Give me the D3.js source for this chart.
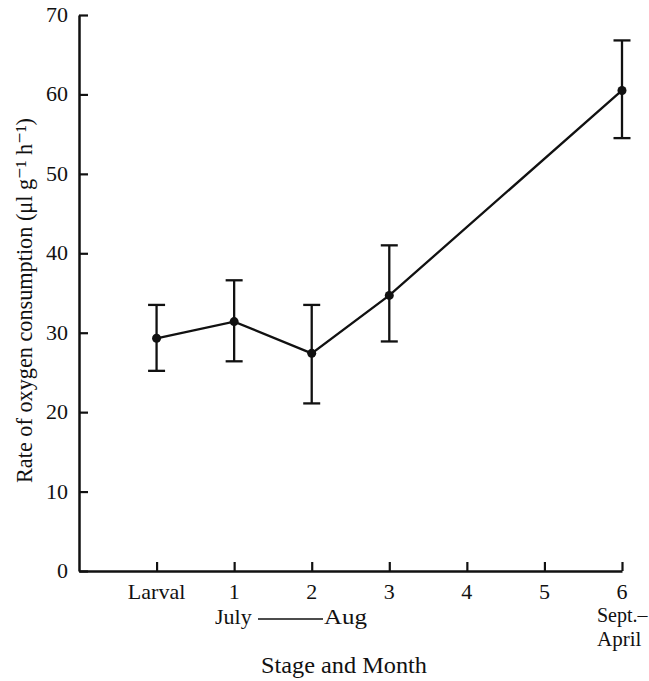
<!DOCTYPE html>
<html>
<head>
<meta charset="utf-8">
<script src="https://cdn.jsdelivr.net/npm/d3@7"></script>
<style>
  html, body { margin: 0; padding: 0; background: #fff; }
  svg text { font-family: "Liberation Serif", "DejaVu Serif", serif; fill: #111; }
</style>
</head>
<body>
<svg id="chart" width="649" height="681"></svg>
<script>
// Stage index: 0 = larval, 1..6 = post-larval stages
const stages = [0, 1, 2, 3, 6];
const meanRate = [29.3, 31.4, 27.4, 34.7, 60.5];
const upperRate = [33.5, 36.6, 33.5, 41.0, 66.8];
const lowerRate = [25.2, 26.4, 21.1, 28.9, 54.5];

const xTickValues = [0, 1, 2, 3, 4, 5, 6];
const xTickLabels = ["Larval", "1", "2", "3", "4", "5", "6"];
const yTickValues = [0, 10, 20, 30, 40, 50, 60, 70];

const svg = d3.select("#chart");
const ink = "#111";

const x = d3.scaleLinear().domain([-1, 6]).range([79, 622]);
const y = d3.scaleLinear().domain([0, 70]).range([571, 15]);

// Y axis: ticks point inward
const yAxis = svg.append("g").attr("transform", `translate(${x(-1)},0)`)
  .call(d3.axisRight(y).tickValues(yTickValues).tickSize(9).tickSizeOuter(0).tickFormat(""));
yAxis.select(".domain").attr("stroke", ink).attr("stroke-width", 2.5);
yAxis.selectAll(".tick line").attr("stroke", ink).attr("stroke-width", 2.2);

svg.append("g").selectAll("text").data(yTickValues).join("text")
  .attr("x", 68).attr("y", d => y(d) + 7)
  .attr("text-anchor", "end").attr("font-size", 22)
  .text(d => d);

// X axis: ticks point up into the plot
const xAxis = svg.append("g").attr("transform", `translate(0,${y(0)})`)
  .call(d3.axisTop(x).tickValues(xTickValues).tickSize(9).tickSizeOuter(0).tickFormat(""));
xAxis.select(".domain").attr("stroke", ink).attr("stroke-width", 2.5);
xAxis.selectAll(".tick line").attr("stroke", ink).attr("stroke-width", 2.2);

svg.append("g").selectAll("text").data(xTickValues).join("text")
  .attr("x", d => x(d)).attr("y", 599)
  .attr("text-anchor", "middle").attr("font-size", 22)
  .text((d, i) => xTickLabels[i]);

// Month annotations
svg.append("text").attr("x", 215).attr("y", 624)
  .attr("font-size", 22).text("July");
svg.append("line")
  .attr("x1", 258).attr("x2", 323)
  .attr("y1", 619).attr("y2", 619)
  .attr("stroke", ink).attr("stroke-width", 1.5);
svg.append("text").attr("x", 324).attr("y", 624)
  .attr("font-size", 22).attr("textLength", 43).attr("lengthAdjust", "spacingAndGlyphs")
  .text("Aug");
svg.append("text").attr("x", 597).attr("y", 622)
  .attr("font-size", 20).text("Sept.–");
svg.append("text").attr("x", 597).attr("y", 646)
  .attr("font-size", 21).text("April");

// Axis titles
svg.append("text").attr("x", 344).attr("y", 673)
  .attr("text-anchor", "middle").attr("font-size", 23)
  .attr("textLength", 166).attr("lengthAdjust", "spacingAndGlyphs")
  .text("Stage and Month");
svg.append("text")
  .attr("transform", `translate(32,483) rotate(-90)`)
  .attr("font-size", 23)
  .attr("textLength", 365).attr("lengthAdjust", "spacingAndGlyphs")
  .text("Rate of oxygen consumption (μl g⁻¹ h⁻¹)");

// Error bars
const bars = svg.append("g").attr("stroke", ink).attr("stroke-width", 2.3);
stages.forEach((s, i) => {
  const cx = x(s);
  bars.append("line").attr("x1", cx).attr("x2", cx)
    .attr("y1", y(upperRate[i])).attr("y2", y(lowerRate[i]));
  [upperRate[i], lowerRate[i]].forEach(v => {
    bars.append("line").attr("x1", cx - 8.5).attr("x2", cx + 8.5)
      .attr("y1", y(v)).attr("y2", y(v));
  });
});

// Mean line and points
const line = d3.line().x((d, i) => x(stages[i])).y(d => y(d));
svg.append("path").datum(meanRate)
  .attr("d", line).attr("fill", "none")
  .attr("stroke", ink).attr("stroke-width", 2.3);

svg.append("g").selectAll("circle").data(meanRate).join("circle")
  .attr("cx", (d, i) => x(stages[i])).attr("cy", d => y(d))
  .attr("r", 4.5).attr("fill", ink);
</script>
</body>
</html>
